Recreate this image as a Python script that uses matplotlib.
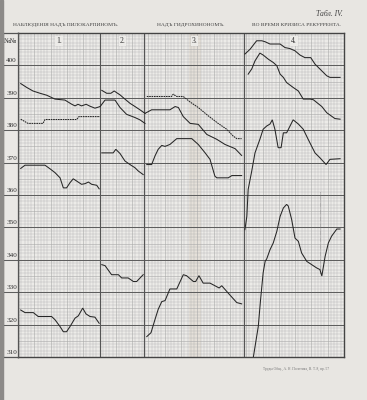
import matplotlib
matplotlib.use("Agg")
import matplotlib.pyplot as plt
from matplotlib.patches import Rectangle

# ---------------- data (x in grid squares, y in scale units) ----------------
y_ticks = [400, 390, 380, 370, 360, 350, 340, 330, 320, 310]
section_labels = ["1.", "2.", "3.", "4."]
section_bounds = [0, 25.2, 38.8, 69.3, 100]

s1a_x = [0.83, 2.67, 4.6, 6.75, 8.8, 11.35, 14.4, 16.5, 17.5, 18.4, 19.5, 20.9, 22.1, 23.6, 25.2]
s1a_y = [394.4, 393.2, 392.1, 391.4, 390.8, 389.6, 389.3, 388, 387.5, 388, 387.5, 388, 387.4, 386.8, 387.3]
s1b_x = [0.83, 3.07, 7.67, 8.28, 18.0, 18.7, 25.15]
s1b_y = [383.4, 382.1, 382.1, 383.3, 383.3, 384.2, 384.2]
s1c_x = [0.83, 2.15, 8.28, 9.8, 11.35, 12.9, 13.9, 14.9, 15.95, 16.95, 18.0, 19.5, 20.55, 21.6, 22.6, 24.15, 24.9]
s1c_y = [368.2, 369.2, 369.2, 368.1, 366.9, 365.3, 362.2, 362.2, 363.8, 365, 364.3, 363.3, 363.5, 364, 363.3, 363, 361.9]
s1d_x = [0.83, 2.15, 4.7, 6.2, 10.3, 11.35, 12.9, 13.9, 14.9, 15.95, 17.5, 18.5, 19.85, 20.85, 22.1, 23.6, 24.9]
s1d_y = [324.5, 323.7, 323.7, 322.5, 322.5, 321.5, 319.4, 317.8, 317.8, 319.4, 322, 322.7, 325.1, 323.3, 322.5, 322.3, 320.4]

s2a_x = [25.7, 27.2, 28.5, 29.5, 31.3, 32.8, 34.35, 35.9, 37.4, 38.96]
s2a_y = [392.3, 391.4, 391.4, 392.1, 390.9, 389.6, 388.3, 387.3, 386.3, 385.2]
s2b_x = [25.2, 26.7, 29.75, 31.3, 33.3, 35.9, 37.4, 38.96]
s2b_y = [387.3, 389.3, 389.3, 387, 384.9, 383.9, 383.2, 382.1]
s2c_x = [25.7, 29.2, 30.0, 31.3, 32.8, 34.35, 35.9, 36.9, 38.4]
s2c_y = [373, 373, 374.1, 372.8, 370.5, 369.4, 368.4, 367.4, 366.3]
s2d_x = [25.7, 26.7, 28.7, 30.8, 31.8, 33.8, 35.4, 36.4, 38.4]
s2d_y = [338.5, 338.2, 335.4, 335.4, 334.4, 334.4, 333.3, 333.3, 335.4]

s3a_x = [39.5, 47.1, 47.6, 48.7, 50.7, 52.8, 55.3, 58.4, 61.4, 64.0, 66.0, 67.1, 68.6]
s3a_y = [390.4, 390.4, 391.1, 390.4, 390.4, 388.7, 387, 384.4, 382.1, 380.3, 378.2, 377.4, 377.4]
s3b_x = [38.96, 41.0, 46.6, 48.2, 49.2, 50.7, 52.8, 55.3, 57.9, 60.95, 63.5, 66.6, 68.6]
s3b_y = [385.2, 386.3, 386.3, 387.3, 387, 384.2, 382.1, 381.8, 378.7, 377.2, 375.6, 374.3, 372.2]
s3c_x = [39.5, 41.0, 42.0, 43.0, 44.1, 45.1, 46.6, 48.7, 53.3, 55.3, 57.4, 58.9, 60.4, 61.0, 64.5, 65.6, 68.6]
s3c_y = [369.4, 369.4, 372, 374.1, 375.3, 375, 375.6, 377.4, 377.4, 375.6, 373, 371, 365.8, 365.3, 365.3, 366, 366]
s3d_x = [39.5, 40.8, 42.0, 43.0, 44.1, 45.1, 46.6, 48.7, 50.7, 51.7, 53.8, 54.5, 55.5, 56.8, 58.9, 60.4, 61.7, 62.5, 64.5, 67.1, 68.6]
s3d_y = [316.3, 317.5, 321.5, 324.7, 327.1, 327.4, 331, 331, 335.4, 335.1, 333.3, 333.3, 335.1, 332.8, 332.8, 332, 331.3, 332, 329.7, 326.8, 326.4]

s4a_x = [69.6, 71.2, 73.2, 74.8, 75.8, 77.3, 80.4, 81.9, 83.4, 84.97, 86.5, 88.0, 89.8, 91.1, 92.6, 94.7, 95.7, 98.8]
s4a_y = [403.5, 405, 407.6, 407.6, 407.3, 406.6, 406.6, 405.5, 405.2, 404.5, 403.2, 402.4, 402.4, 400.4, 398.9, 396.8, 396.3, 396.3]
s4b_x = [70.6, 71.7, 72.7, 74.2, 75.2, 76.8, 78.3, 79.4, 80.4, 81.4, 82.4, 84.4, 86.0, 87.5, 89.6, 90.6, 93.2, 94.7, 97.2, 98.8]
s4b_y = [397.3, 398.9, 401.4, 403.8, 403.2, 401.9, 400.9, 399.9, 397.3, 396.3, 394.7, 393.2, 392.1, 389.6, 389.6, 389.4, 387.3, 385.4, 383.6, 383.4]
s4c_x = [69.6, 70.2, 70.6, 71.7, 72.7, 74.2, 75.2, 76.3, 77.3, 78.0, 78.8, 79.8, 80.7, 81.4, 82.4, 84.4, 86.0, 87.5, 89.0, 91.1, 92.6, 94.5, 95.7, 98.8]
s4c_y = [349.3, 353.4, 361.7, 367.4, 373, 377.2, 380.3, 381.3, 381.9, 383.2, 380.3, 374.6, 374.6, 379.2, 379.2, 383.2, 381.9, 380.3, 377.2, 373, 371.5, 369.4, 371, 371.2]
s4d_x = [72.2, 73.7, 74.4, 75.2, 75.8, 76.3, 77.3, 78.3, 79.4, 80.4, 81.4, 82.4, 82.9, 83.95, 84.97, 86.0, 87.0, 88.6, 90.1, 91.6, 92.6, 93.2, 94.2, 95.2, 96.2, 97.8, 98.8]
s4d_y = [310, 319.4, 327.6, 336, 339.5, 340.3, 343.1, 345.2, 348.8, 353.4, 356, 357.1, 356.6, 352.4, 346.7, 345.7, 342.1, 339.5, 338.5, 337.5, 337, 335, 341, 345.2, 347.3, 349.5, 349.5]

marker_x = 92.6
marker_y = [336, 361]

solid_series = [(s1a_x, s1a_y), (s1c_x, s1c_y), (s1d_x, s1d_y),
                (s2a_x, s2a_y), (s2b_x, s2b_y), (s2c_x, s2c_y), (s2d_x, s2d_y),
                (s3b_x, s3b_y), (s3c_x, s3c_y), (s3d_x, s3d_y),
                (s4a_x, s4a_y), (s4b_x, s4b_y), (s4c_x, s4c_y), (s4d_x, s4d_y)]
dashed_series = [(s1b_x, s1b_y), (s3a_x, s3a_y)]

# ---------------- figure ----------------
W, H = 367, 400
paper = "#e8e6e2"
fig = plt.figure(figsize=(W / 100, H / 100), dpi=100, facecolor=paper)
serif = ["Liberation Serif", "DejaVu Serif"]

def fx(px):
    return px / W

def fy(py):
    return 1 - py / H

# scan shadow on the left edge
fig.patches.append(Rectangle((0, 0), fx(2.5), 1, transform=fig.transFigure,
                             color="#8c8a88", zorder=0))

ax = fig.add_axes([fx(18), fy(357), fx(344 - 18), (357 - 33) / H])
ax.set_facecolor("#ecebe8")
ax.set_xlim(0, 100)
ax.set_ylim(310, 410)
ax.set_xticks([])
ax.set_yticks([])

# faint fold in the paper
ax.axvspan(52.5, 56.0, color="#d9cdbf", alpha=0.35, lw=0, zorder=0)

grid_c = "#a9a9a9"
for i in range(0, 101):
    lw = 0.4 if i % 5 == 0 else 0.25
    ax.axvline(i, color=grid_c, lw=lw, zorder=1)
for v in range(310, 411):
    if v % 10 == 0:
        ax.axhline(v, color="#5e5e5e", lw=0.75, zorder=2)
    else:
        lw = 0.4 if v % 5 == 0 else 0.25
        ax.axhline(v, color=grid_c, lw=lw, zorder=1)
for b in section_bounds[1:-1]:
    ax.axvline(b, color="#555555", lw=0.85, zorder=2)
for sp in ax.spines.values():
    sp.set_color("#444444")
    sp.set_linewidth(1.0)

line_c = "#262626"
for xs, ys in solid_series:
    ax.plot(xs, ys, color=line_c, lw=0.75, zorder=5, solid_joinstyle="miter")
for xs, ys in dashed_series:
    ax.plot(xs, ys, color=line_c, lw=0.75, zorder=5, linestyle=(0, (1.6, 0.7)))
ax.plot([marker_x, marker_x], marker_y, color="#777777", lw=0.6,
        linestyle=(0, (0.6, 0.8)), zorder=4)

# section numbers
for i, lab in enumerate(section_labels):
    cx = (section_bounds[i] + section_bounds[i + 1]) / 2
    ax.text(cx, 407.5, lab, ha="center", va="center", fontsize=5.5,
            family=serif, color="#333333", zorder=6,
            bbox=dict(boxstyle="square,pad=0.1", fc="#ecebe8", ec="none"))

# label column
lax = fig.add_axes([fx(3), fy(357), fx(18 - 3), (357 - 33) / H])
lax.set_facecolor("#eae8e5")
lax.set_xlim(0, 1)
lax.set_ylim(310, 410)
lax.set_xticks([])
lax.set_yticks([])
for sp in lax.spines.values():
    sp.set_color("#555555")
    sp.set_linewidth(0.9)
for v in y_ticks:
    lax.axhline(v, color="#5e5e5e", lw=0.75)
    lax.text(0.93, v + 0.6, str(v), ha="right", va="bottom", fontsize=5.2,
             family=serif, color="#333333")
lax.text(0.5, 407.3, "№№", ha="center", va="center", fontsize=5.0,
         family=serif, color="#333333")

# titles
fig.text(fx(13), fy(25), "НАБЛЮДЕНІЯ НАДЪ ПИЛОКАРПИНОМЪ.", fontsize=3.9,
         family=serif, color="#3a3a3a", ha="left", va="center")
fig.text(fx(191), fy(25), "НАДЪ ГИДРОХИНОНОМЪ.", fontsize=3.9,
         family=serif, color="#3a3a3a", ha="center", va="center")
fig.text(fx(341), fy(25), "ВО ВРЕМЯ КРИЗИСА РЕКУРРЕНТА.", fontsize=3.9,
         family=serif, color="#3a3a3a", ha="right", va="center")
fig.text(fx(343), fy(14), "Табл. IV.", fontsize=5.5, family=serif,
         style="italic", color="#444444", ha="right", va="center")
fig.text(fx(296), fy(369), "Труды Общ., А. Н. Полетика, В. Т. 8, пр. 57",
         fontsize=2.6, family=serif, color="#777777", ha="center", va="center")

fig.savefig("out.png", dpi=100, facecolor=paper)
